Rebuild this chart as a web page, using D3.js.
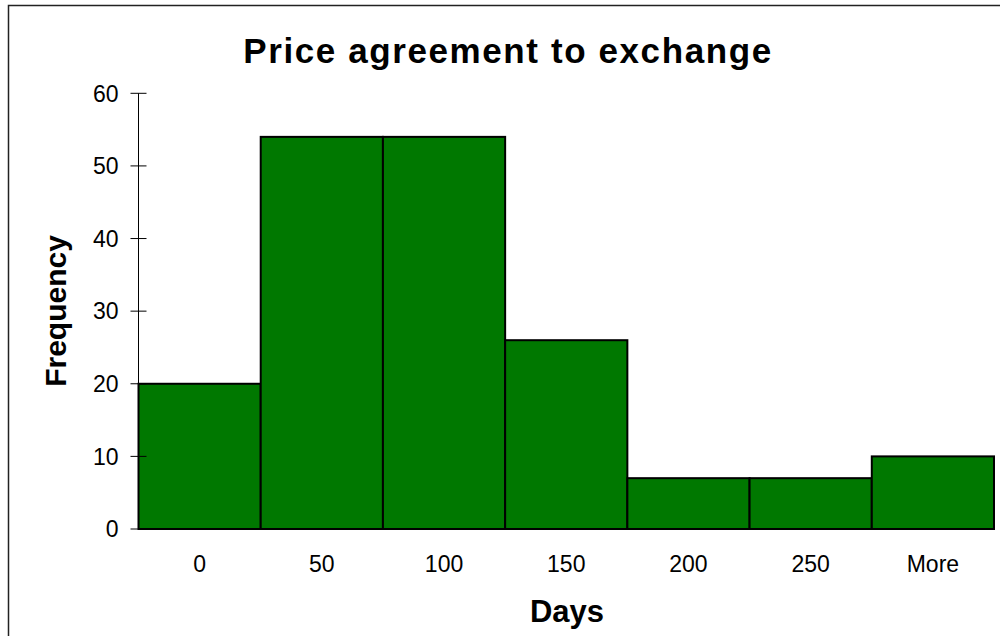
<!DOCTYPE html>
<html>
<head>
<meta charset="utf-8">
<script src="https://cdn.jsdelivr.net/npm/d3@7"></script>
<style>
  body { margin: 0; background: #fff; }
  text { font-family: "Liberation Sans", Arial, sans-serif; fill: #000; }
</style>
</head>
<body>
<div id="chart"></div>
<script>
var bins = ["0", "50", "100", "150", "200", "250", "More"];
var frequency = [20, 54, 54, 26, 7, 7, 10];
var yTicks = [0, 10, 20, 30, 40, 50, 60];

var width = 1000,
    height = 636;

var plotLeft = 138.5, plotRight = 994, plotTop = 93.3, plotBottom = 529;

var svg = d3.select("#chart").append("svg")
    .attr("width", width)
    .attr("height", height);

// outer frame (runs off the right and bottom edges)
svg.append("rect")
    .attr("x", 8.5)
    .attr("y", 5.5)
    .attr("width", 1010)
    .attr("height", 650)
    .attr("fill", "none")
    .attr("stroke", "#222")
    .attr("stroke-width", 1.5);

var x = d3.scaleBand()
    .domain(bins)
    .range([plotLeft, plotRight])
    .padding(0);

var y = d3.scaleLinear()
    .domain([0, 60])
    .range([plotBottom, plotTop]);

svg.selectAll("rect.bar")
    .data(frequency)
    .enter().append("rect")
    .attr("class", "bar")
    .attr("x", function (d, i) { return x(bins[i]); })
    .attr("y", function (d) { return y(d); })
    .attr("width", x.bandwidth())
    .attr("height", function (d) { return y(0) - y(d); })
    .attr("fill", "#007800")
    .attr("stroke", "#000")
    .attr("stroke-width", 2);

// y axis, ticks cross the line
var yAxis = svg.append("g")
    .attr("transform", "translate(" + plotLeft + ",0)");
yAxis.append("line")
    .attr("y1", y(0)).attr("y2", y(60))
    .attr("stroke", "#000").attr("stroke-width", 1);
yAxis.selectAll("line.tick")
    .data(yTicks)
    .enter().append("line")
    .attr("class", "tick")
    .attr("x1", -8).attr("x2", 8)
    .attr("y1", function (d) { return y(d); })
    .attr("y2", function (d) { return y(d); })
    .attr("stroke", "#000").attr("stroke-width", 1);
yAxis.selectAll("text")
    .data(yTicks)
    .enter().append("text")
    .attr("x", -20)
    .attr("y", function (d) { return y(d); })
    .attr("dy", "0.36em")
    .attr("text-anchor", "end")
    .style("font-size", "23px")
    .text(function (d) { return d; });

// x labels
svg.selectAll("text.xlab")
    .data(bins)
    .enter().append("text")
    .attr("class", "xlab")
    .attr("x", function (d) { return x(d) + x.bandwidth() / 2; })
    .attr("y", 572)
    .attr("text-anchor", "middle")
    .style("font-size", "23px")
    .text(function (d) { return d; });

svg.append("text")
    .attr("x", 508)
    .attr("y", 63)
    .attr("text-anchor", "middle")
    .style("font-size", "35px")
    .style("font-weight", "bold")
    .style("letter-spacing", "1.6px")
    .text("Price agreement to exchange");

svg.append("text")
    .attr("x", 567)
    .attr("y", 622)
    .attr("text-anchor", "middle")
    .style("font-size", "31px")
    .style("font-weight", "bold")
    .text("Days");

svg.append("text")
    .attr("transform", "translate(66,311) rotate(-90)")
    .attr("text-anchor", "middle")
    .style("font-size", "30px")
    .style("font-weight", "bold")
    .text("Frequency");
</script>
</body>
</html>
